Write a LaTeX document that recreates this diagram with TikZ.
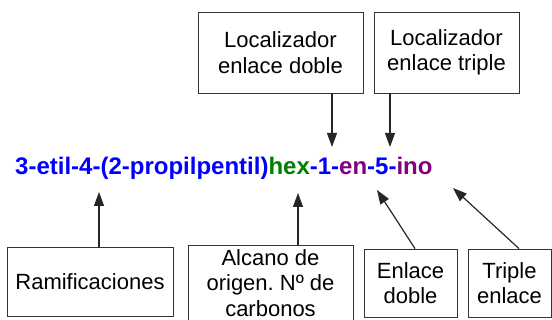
\documentclass[tikz,border=0pt]{standalone}
\usepackage{fontspec}
\setmainfont{Liberation Sans}
\usetikzlibrary{arrows.meta}

\definecolor{azul}{RGB}{0,0,255}
\definecolor{verde}{RGB}{0,128,0}
\definecolor{morado}{RGB}{128,0,128}

\tikzset{
  caja/.style={draw=black!80, line width=0.8pt, align=center, inner sep=0pt,
    font=\fontsize{22}{25.5}\selectfont},
  flecha/.style={draw=black!85, line width=1.2pt, -{Triangle[length=14pt,width=10pt]}}
}

\begin{document}
\frenchspacing
\begin{tikzpicture}[x=1pt, y=-1pt]

  % lienzo fijo
  \useasboundingbox (0,0) rectangle (552,320);

  %% ════ nombre del compuesto ════
  \node[anchor=base west, inner sep=0pt, font=\fontsize{24}{28}\selectfont\bfseries] (nombre) at (15,175)
    {\textcolor{azul}{3-etil-4-(2-propilpentil)}\textcolor{verde}{hex}\textcolor{azul}{-1-}\textcolor{morado}{en}\textcolor{azul}{-5-}\textcolor{morado}{ino}};

  %% ════ cajas superiores ════
  \node[caja, minimum width=165pt, minimum height=81pt] (locdoble)  at (280.5,52.5) {Localizador\\enlace doble};
  \node[caja, minimum width=145pt, minimum height=81pt] (loctriple) at (446.5,52.5) {Localizador\\enlace triple};

  %% ════ cajas inferiores ════
  \node[caja, minimum width=166pt, minimum height=69pt] (ramif)  at (90,281.5)  {Ramificaciones};
  \node[caja, minimum width=165pt, minimum height=76pt] (alcano) at (270.5,283) {Alcano de\\origen. Nº de\\carbonos};
  \node[caja, minimum width=93pt,  minimum height=68pt] (doble)  at (410.5,283) {Enlace\\doble};
  \node[caja, minimum width=83pt,  minimum height=68pt] (triple) at (509.5,283) {Triple\\enlace};

  %% ════ puntas de las flechas (bajo / sobre el nombre) ════
  \coordinate (pRamif)  at (99,192);
  \coordinate (pAlcano) at (298,193);
  \coordinate (pDoble)  at (377,190);
  \coordinate (pTriple) at (453,188);
  \coordinate (pLoc1)   at (332,147);
  \coordinate (pLoc2)   at (390,147);

  %% ════ flechas ════
  \draw[flecha] (ramif.north -| pRamif) -- (pRamif);
  \draw[flecha] (alcano.north -| pAlcano) -- (pAlcano);
  \draw[flecha] ([xshift=4.5pt]doble.north) -- (pDoble);
  \draw[flecha] ([xshift=9.5pt]triple.north) -- (pTriple);
  \draw[flecha] (locdoble.south -| pLoc1) -- (pLoc1);
  \draw[flecha] (loctriple.south -| pLoc2) -- (pLoc2);
\end{tikzpicture}
\end{document}
